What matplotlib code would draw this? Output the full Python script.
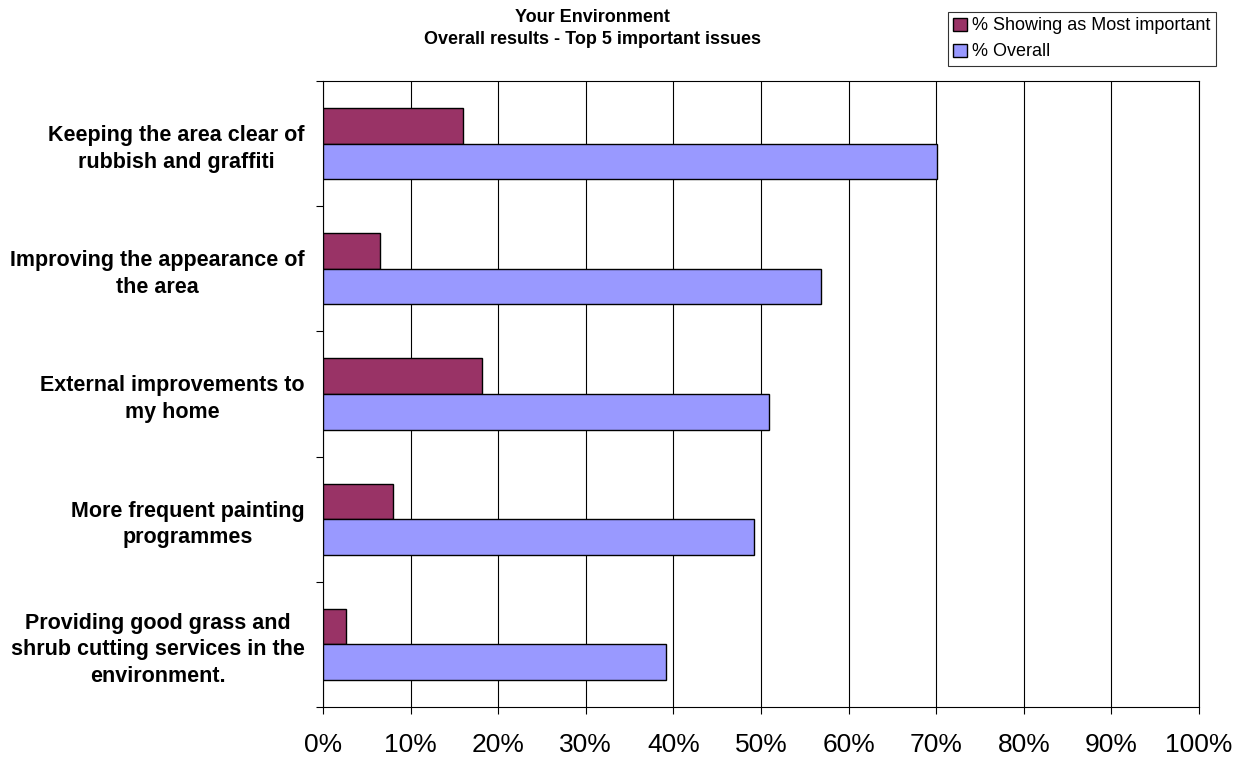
import matplotlib
matplotlib.use("Agg")
import matplotlib.pyplot as plt
import numpy as np
from matplotlib.patches import Patch

plt.rcParams['font.family'] = ['Liberation Sans', 'DejaVu Sans']

categories = [
    "Keeping the area clear of\nrubbish and graffiti",
    "Improving the appearance of\nthe area",
    "External improvements to\nmy home",
    "More frequent painting\nprogrammes",
    "Providing good grass and\nshrub cutting services in the\nenvironment.",
]
most_important = [16.0, 6.5, 18.2, 8.0, 2.6]
overall = [70.1, 56.9, 50.9, 49.2, 39.2]
series_names = ["% Showing as Most important", "% Overall"]
xticks = list(range(0, 101, 10))
xtick_labels = [f"{v}%" for v in xticks]

c_most = "#993366"
c_over = "#9999FF"

W, H = 1251, 758
fig = plt.figure(figsize=(W / 100, H / 100), dpi=100)
ax = fig.add_axes([323 / W, 51 / H, (1199 - 323) / W, (707 - 81) / H])

y = np.arange(len(categories))
bh = 0.284
ax.barh(y - bh / 2, most_important, height=bh, color=c_most, edgecolor="black", linewidth=1.0, zorder=3)
ax.barh(y + bh / 2, overall, height=bh, color=c_over, edgecolor="black", linewidth=1.0, zorder=3)

ax.set_xlim(0, 100)
ax.set_ylim(len(categories) - 0.5, -0.5)

ax.set_xticks(xticks)
ax.set_xticklabels(xtick_labels, fontsize=19)
ax.tick_params(axis="x", direction="out", length=5, width=0.8, pad=14)
ax.xaxis.grid(True, color="black", linewidth=0.8, zorder=0)

ax.set_yticks(np.arange(len(categories) + 1) - 0.5)
ax.set_yticklabels([])
ax.set_yticks(y, minor=True)
ax.set_yticklabels(categories, minor=True, fontsize=15.5, fontweight="bold")
ax.tick_params(axis="y", which="major", direction="out", length=5, width=0.8)
ax.tick_params(axis="y", which="minor", length=0, pad=13)
for t in ax.get_yticklabels(minor=True):
    t.set_multialignment("center")
    t.set_linespacing(1.35)

for s in ax.spines.values():
    s.set_color("black")
    s.set_linewidth(0.8)

fig.text(592 / W, 1 - 17 / H, "Your Environment", ha="center", va="center", fontsize=13, fontweight="bold")
fig.text(592 / W, 1 - 40 / H, "Overall results - Top 5 important issues", ha="center", va="center", fontsize=13, fontweight="bold")

handles = [Patch(facecolor=c_most, edgecolor="black", linewidth=1.0),
           Patch(facecolor=c_over, edgecolor="black", linewidth=1.0)]
leg = fig.legend(handles, series_names, loc="upper left",
                 bbox_to_anchor=(948 / W, 1 - 12 / H), fontsize=13,
                 frameon=True, fancybox=False, edgecolor="black",
                 handlelength=0.75, handleheight=0.75, handletextpad=0.3,
                 borderpad=0.3, labelspacing=0.5, borderaxespad=0)
leg.get_frame().set_linewidth(0.8)

fig.savefig("out.png", dpi=100)
